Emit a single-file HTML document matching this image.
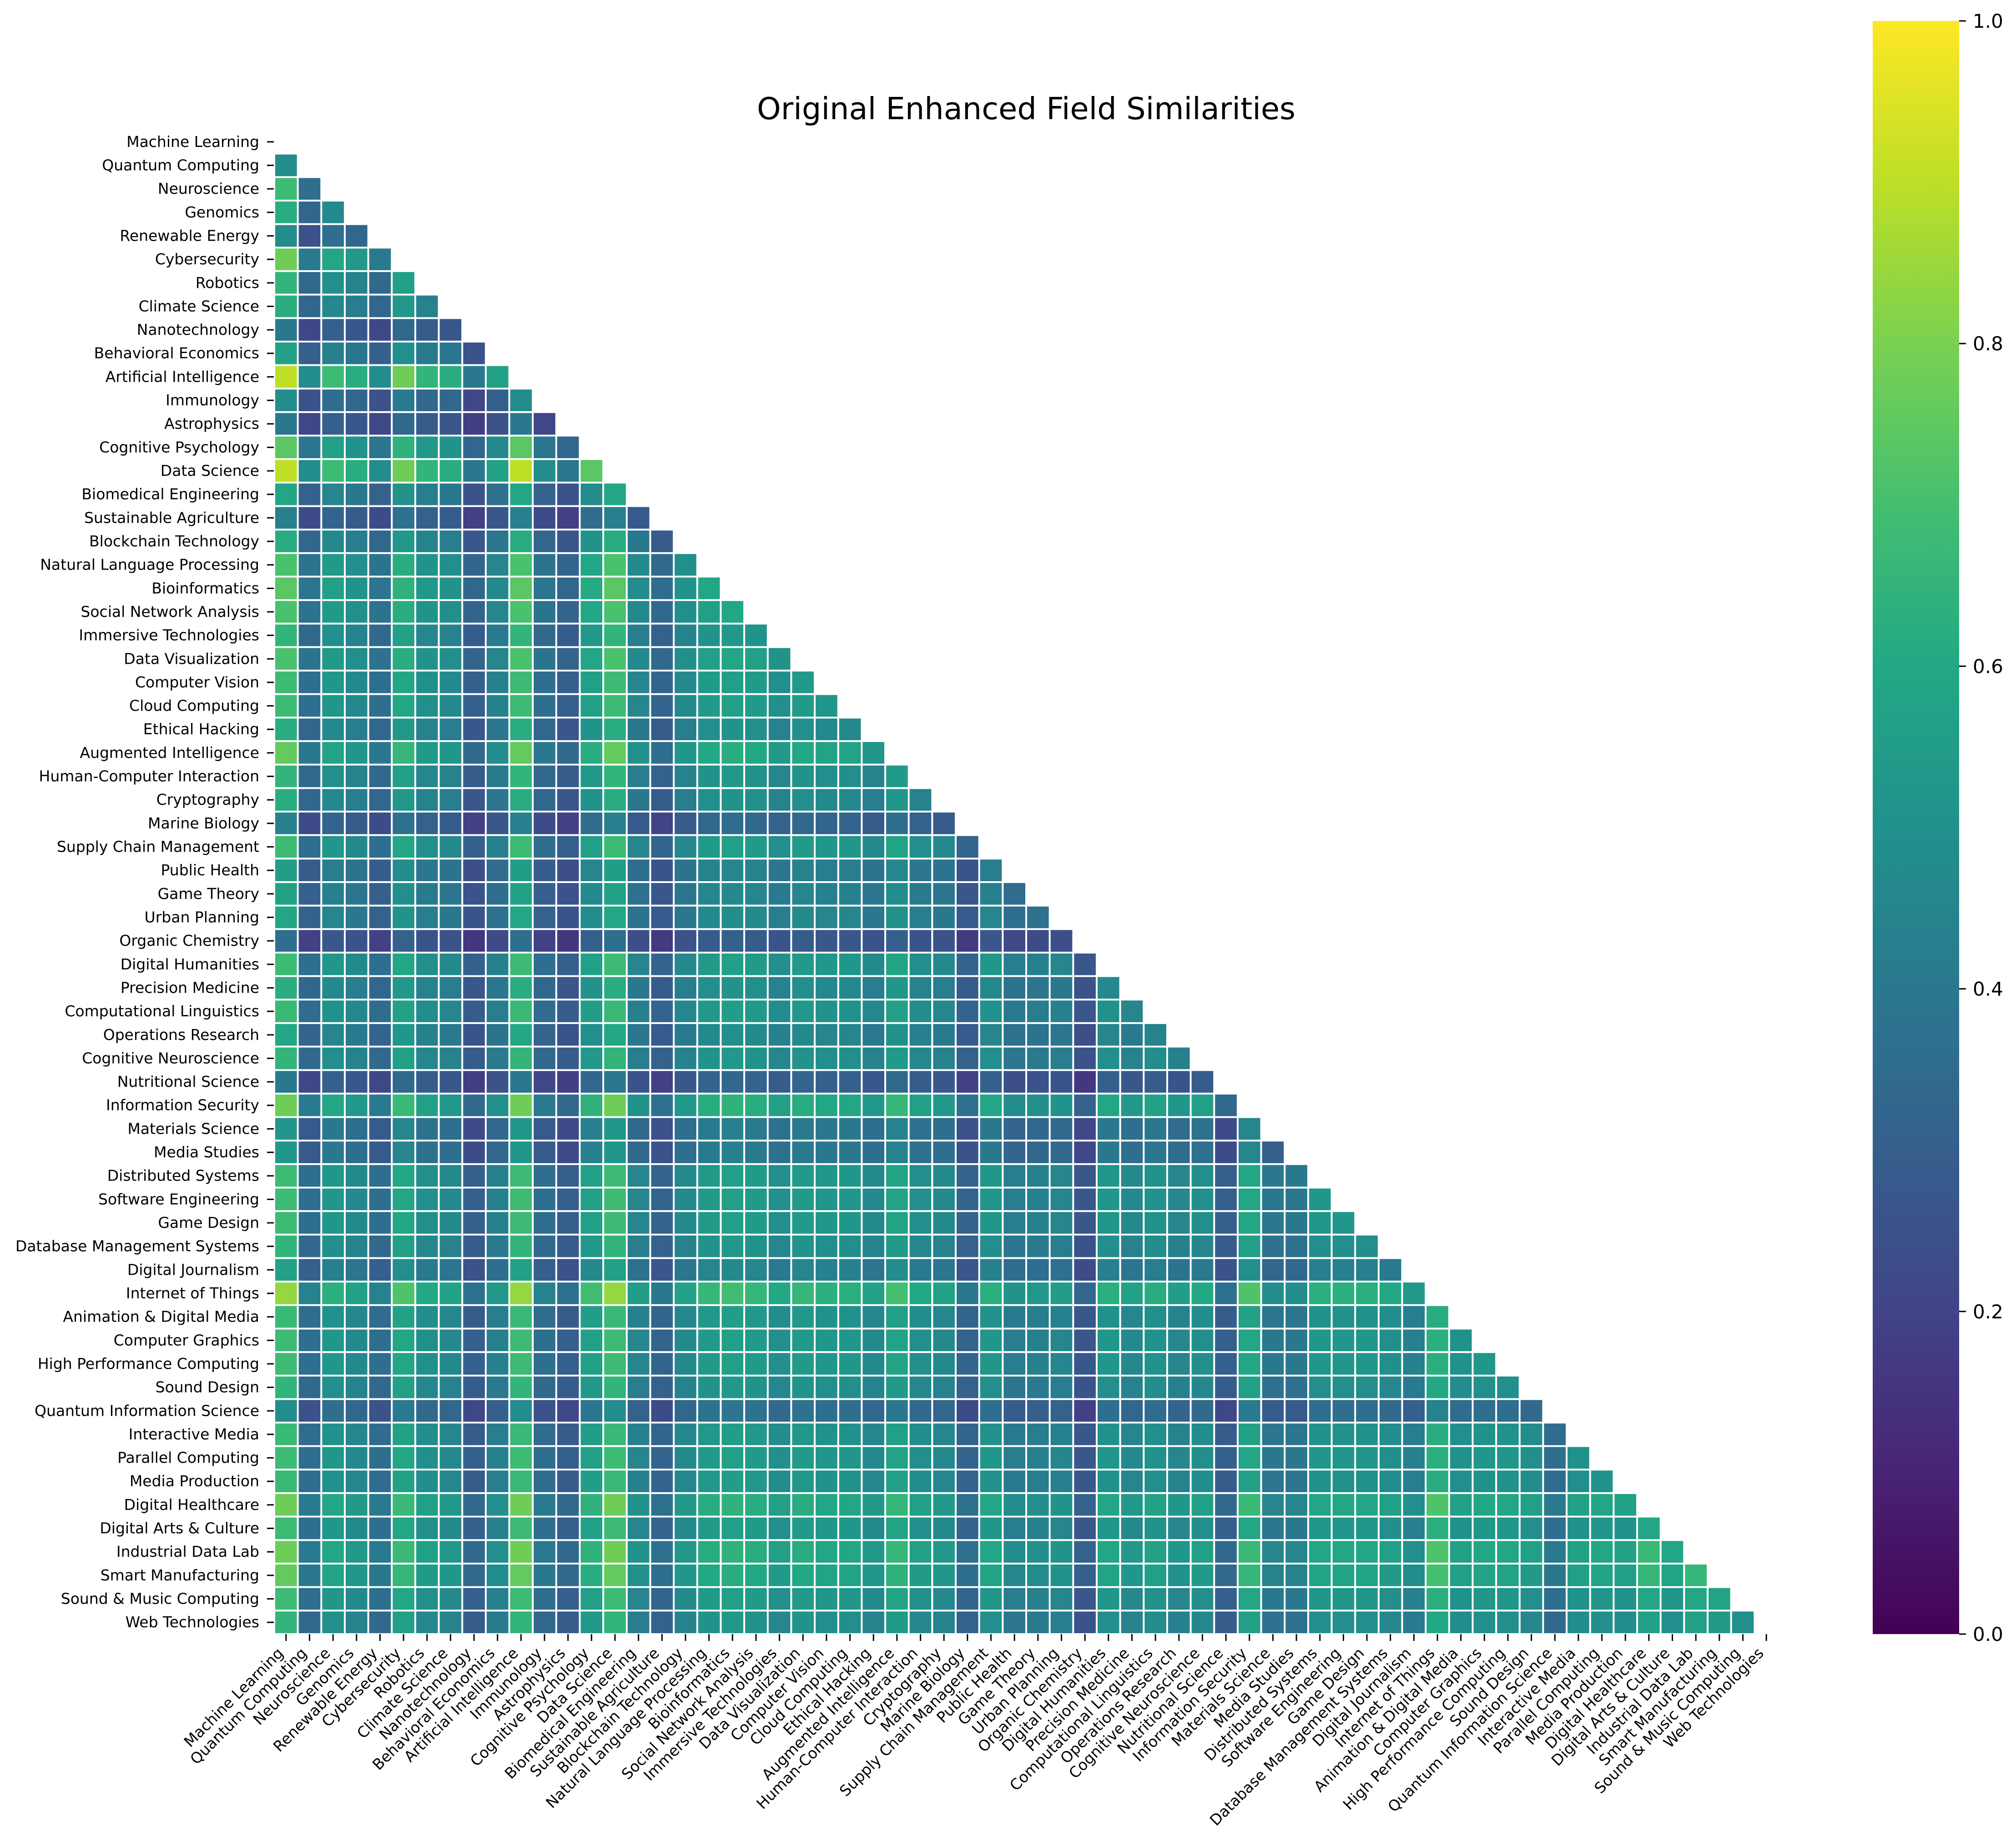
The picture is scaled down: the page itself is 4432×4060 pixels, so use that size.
<!DOCTYPE html>
<html><head><meta charset="utf-8"><title>Original Enhanced Field Similarities</title>
<style>
html,body{margin:0;padding:0;background:#fff;}
svg{display:block;font-family:"DejaVu Sans","Liberation Sans",sans-serif;}
</style></head>
<body>
<svg id="chart" width="4432" height="4060" viewBox="0 0 4432 4060" xmlns="http://www.w3.org/2000/svg">
<defs>
<linearGradient id="viridisGrad" x1="0" y1="1" x2="0" y2="0">
<stop offset="0" stop-color="#440154"/><stop offset="0.1" stop-color="#482475"/><stop offset="0.2" stop-color="#414487"/><stop offset="0.3" stop-color="#355f8d"/><stop offset="0.4" stop-color="#2a788e"/><stop offset="0.5" stop-color="#21918c"/><stop offset="0.6" stop-color="#22a884"/><stop offset="0.7" stop-color="#44bf70"/><stop offset="0.8" stop-color="#7ad151"/><stop offset="0.9" stop-color="#bddf26"/><stop offset="1" stop-color="#fde725"/>
</linearGradient>
</defs>
<text x="2256" y="262" font-size="67" text-anchor="middle" fill="#000">Original Enhanced Field Similarities</text>
<g id="cells"></g>
<g id="yaxis"></g>
<g id="xaxis"></g>
<g id="cbar">
<rect x="4117" y="46" width="190" height="3546" fill="url(#viridisGrad)"/>
</g>
</svg>
<script>
const labels = ["Machine Learning","Quantum Computing","Neuroscience","Genomics","Renewable Energy","Cybersecurity","Robotics","Climate Science","Nanotechnology","Behavioral Economics","Artificial Intelligence","Immunology","Astrophysics","Cognitive Psychology","Data Science","Biomedical Engineering","Sustainable Agriculture","Blockchain Technology","Natural Language Processing","Bioinformatics","Social Network Analysis","Immersive Technologies","Data Visualization","Computer Vision","Cloud Computing","Ethical Hacking","Augmented Intelligence","Human-Computer Interaction","Cryptography","Marine Biology","Supply Chain Management","Public Health","Game Theory","Urban Planning","Organic Chemistry","Digital Humanities","Precision Medicine","Computational Linguistics","Operations Research","Cognitive Neuroscience","Nutritional Science","Information Security","Materials Science","Media Studies","Distributed Systems","Software Engineering","Game Design","Database Management Systems","Digital Journalism","Internet of Things","Animation & Digital Media","Computer Graphics","High Performance Computing","Sound Design","Quantum Information Science","Interactive Media","Parallel Computing","Media Production","Digital Healthcare","Digital Arts & Culture","Industrial Data Lab","Smart Manufacturing","Sound & Music Computing","Web Technologies"];
const values = [
[],
[48],
[68,36],
[62,33,47],
[48,25,36,33],
[78,41,59,53,41],
[65,34,49,44,34,56],
[62,33,47,42,33,53,44],
[40,21,30,27,21,34,29,27],
[57,30,43,39,30,49,41,39,25],
[90,48,68,62,48,78,65,62,40,57],
[48,25,36,33,25,41,34,33,21,30,48],
[40,21,30,27,21,34,29,27,18,25,40,21],
[74,39,56,51,39,64,53,51,33,47,74,39,33],
[90,48,68,62,48,78,65,62,40,57,90,48,40,74],
[59,31,45,40,31,51,42,40,26,37,59,31,26,48,59],
[43,23,32,29,23,37,31,29,19,27,43,23,19,35,43,28],
[62,33,47,42,33,53,44,42,27,39,62,33,27,51,62,40,29],
[71,38,54,49,38,62,51,49,32,45,71,38,32,59,71,47,34,49],
[74,39,56,51,39,64,53,51,33,47,74,39,33,61,74,48,35,51,59],
[71,38,54,49,38,62,51,49,32,45,71,38,32,59,71,47,34,49,56,59],
[65,34,49,44,34,56,46,44,29,41,65,34,29,53,65,42,31,44,51,53,51],
[71,38,54,49,38,62,51,49,32,45,71,38,32,59,71,47,34,49,56,59,56,51],
[68,36,52,47,36,59,49,47,30,43,68,36,30,56,68,45,32,47,54,56,54,49,54],
[68,36,52,47,36,59,49,47,30,43,68,36,30,56,68,45,32,47,54,56,54,49,54,52],
[62,33,47,42,33,53,44,42,27,39,62,33,27,51,62,40,29,42,49,51,49,44,49,47,47],
[76,40,58,52,40,66,54,52,34,48,76,40,34,62,76,50,36,52,60,62,60,54,60,58,58,52],
[65,34,49,44,34,56,46,44,29,41,65,34,29,53,65,42,31,44,51,53,51,46,51,49,49,44,54],
[62,33,47,42,33,53,44,42,27,39,62,33,27,51,62,40,29,42,49,51,49,44,49,47,47,42,52,44],
[43,23,32,29,23,37,31,29,19,27,43,23,19,35,43,28,20,29,34,35,34,31,34,32,32,29,36,31,29],
[68,36,52,47,36,59,49,47,30,43,68,36,30,56,68,45,32,47,54,56,54,49,54,52,52,47,58,49,47,32],
[55,29,42,38,29,48,39,38,24,35,55,29,24,45,55,36,26,38,44,45,44,39,44,42,42,38,46,39,38,26,42],
[57,30,43,39,30,49,41,39,25,36,57,30,25,47,57,37,27,39,45,47,45,41,45,43,43,39,48,41,39,27,43,35],
[59,31,45,40,31,51,42,40,26,37,59,31,26,48,59,38,28,40,47,48,47,42,47,45,45,40,50,42,40,28,45,36,37],
[36,19,27,25,19,31,26,25,16,23,36,19,16,30,36,24,17,25,29,30,29,26,29,27,27,25,30,26,25,17,27,22,23,24],
[68,36,52,47,36,59,49,47,30,43,68,36,30,56,68,45,32,47,54,56,54,49,54,52,52,47,58,49,47,32,52,42,43,45,27],
[62,33,47,42,33,53,44,42,27,39,62,33,27,51,62,40,29,42,49,51,49,44,49,47,47,42,52,44,42,29,47,38,39,40,25,47],
[67,35,50,46,35,57,48,46,29,42,67,35,29,55,67,43,32,46,53,55,53,48,53,50,50,46,56,48,46,32,50,41,42,43,27,50,46],
[60,32,45,41,32,52,43,41,26,38,60,32,26,49,60,39,28,41,47,49,47,43,47,45,45,41,50,43,41,28,45,37,38,39,24,45,41,44],
[65,34,49,44,34,56,46,44,29,41,65,34,29,53,65,42,31,44,51,53,51,46,51,49,49,44,54,46,44,31,49,39,41,42,26,49,44,48,43],
[40,21,30,27,21,34,29,27,18,25,40,21,18,33,40,26,19,27,32,33,32,29,32,30,30,27,34,29,27,19,30,24,25,26,16,30,27,29,26,29],
[78,41,59,53,41,67,56,53,34,49,78,41,34,64,78,51,37,53,62,64,62,56,62,59,59,53,66,56,53,37,59,48,49,51,31,59,53,57,52,56,34],
[52,28,40,36,28,45,37,36,23,33,52,28,23,43,52,34,25,36,41,43,41,37,41,40,40,36,44,37,36,25,40,32,33,34,21,40,36,39,35,37,23,45],
[52,28,40,36,28,45,37,36,23,33,52,28,23,43,52,34,25,36,41,43,41,37,41,40,40,36,44,37,36,25,40,32,33,34,21,40,36,39,35,37,23,45,30],
[68,36,52,47,36,59,49,47,30,43,68,36,30,56,68,45,32,47,54,56,54,49,54,52,52,47,58,49,47,32,52,42,43,45,27,52,47,50,45,49,30,59,40,40],
[68,36,52,47,36,59,49,47,30,43,68,36,30,56,68,45,32,47,54,56,54,49,54,52,52,47,58,49,47,32,52,42,43,45,27,52,47,50,45,49,30,59,40,40,52],
[68,36,52,47,36,59,49,47,30,43,68,36,30,56,68,45,32,47,54,56,54,49,54,52,52,47,58,49,47,32,52,42,43,45,27,52,47,50,45,49,30,59,40,40,52,52],
[65,34,49,44,34,56,46,44,29,41,65,34,29,53,65,42,31,44,51,53,51,46,51,49,49,44,54,46,44,31,49,39,41,42,26,49,44,48,43,46,29,56,37,37,49,49,49],
[57,30,43,39,30,49,41,39,25,36,57,30,25,47,57,37,27,39,45,47,45,41,45,43,43,39,48,41,39,27,43,35,36,37,23,43,39,42,38,41,25,49,33,33,43,43,43,41],
[84,44,63,57,44,72,60,57,37,53,84,44,37,69,84,55,40,57,66,69,66,60,66,63,63,57,70,60,57,40,63,51,53,55,33,63,57,62,55,60,37,72,48,48,63,63,63,60,53],
[67,35,50,46,35,57,48,46,29,42,67,35,29,55,67,43,32,46,53,55,53,48,53,50,50,46,56,48,46,32,50,41,42,43,27,50,46,49,44,48,29,57,39,39,50,50,50,48,42,62],
[68,36,52,47,36,59,49,47,30,43,68,36,30,56,68,45,32,47,54,56,54,49,54,52,52,47,58,49,47,32,52,42,43,45,27,52,47,50,45,49,30,59,40,40,52,52,52,49,43,63,50],
[68,36,52,47,36,59,49,47,30,43,68,36,30,56,68,45,32,47,54,56,54,49,54,52,52,47,58,49,47,32,52,42,43,45,27,52,47,50,45,49,30,59,40,40,52,52,52,49,43,63,50,52],
[65,34,49,44,34,56,46,44,29,41,65,34,29,53,65,42,31,44,51,53,51,46,51,49,49,44,54,46,44,31,49,39,41,42,26,49,44,48,43,46,29,56,37,37,49,49,49,46,41,60,48,49,49],
[48,25,36,33,25,41,34,33,21,30,48,25,21,39,48,31,23,33,38,39,38,34,38,36,36,33,40,34,33,23,36,29,30,31,19,36,33,35,32,34,21,41,28,28,36,36,36,34,30,44,35,36,36,34],
[67,35,50,46,35,57,48,46,29,42,67,35,29,55,67,43,32,46,53,55,53,48,53,50,50,46,56,48,46,32,50,41,42,43,27,50,46,49,44,48,29,57,39,39,50,50,50,48,42,62,49,50,50,48,35],
[68,36,52,47,36,59,49,47,30,43,68,36,30,56,68,45,32,47,54,56,54,49,54,52,52,47,58,49,47,32,52,42,43,45,27,52,47,50,45,49,30,59,40,40,52,52,52,49,43,63,50,52,52,49,36,50],
[67,35,50,46,35,57,48,46,29,42,67,35,29,55,67,43,32,46,53,55,53,48,53,50,50,46,56,48,46,32,50,41,42,43,27,50,46,49,44,48,29,57,39,39,50,50,50,48,42,62,49,50,50,48,35,49,50],
[78,41,59,53,41,67,56,53,34,49,78,41,34,64,78,51,37,53,62,64,62,56,62,59,59,53,66,56,53,37,59,48,49,51,31,59,53,57,52,56,34,67,45,45,59,59,59,56,49,72,57,59,59,56,41,57,59,57],
[68,36,52,47,36,59,49,47,30,43,68,36,30,56,68,45,32,47,54,56,54,49,54,52,52,47,58,49,47,32,52,42,43,45,27,52,47,50,45,49,30,59,40,40,52,52,52,49,43,63,50,52,52,49,36,50,52,50,59],
[78,41,59,53,41,67,56,53,34,49,78,41,34,64,78,51,37,53,62,64,62,56,62,59,59,53,66,56,53,37,59,48,49,51,31,59,53,57,52,56,34,67,45,45,59,59,59,56,49,72,57,59,59,56,41,57,59,57,67,59],
[76,40,58,52,40,66,54,52,34,48,76,40,34,62,76,50,36,52,60,62,60,54,60,58,58,52,64,54,52,36,58,46,48,50,30,58,52,56,50,54,34,66,44,44,58,58,58,54,48,70,56,58,58,54,40,56,58,56,66,58,66],
[68,36,52,47,36,59,49,47,30,43,68,36,30,56,68,45,32,47,54,56,54,49,54,52,52,47,58,49,47,32,52,42,43,45,27,52,47,50,45,49,30,59,40,40,52,52,52,49,43,63,50,52,52,49,36,50,52,50,59,52,59,58],
[65,34,49,44,34,56,46,44,29,41,65,34,29,53,65,42,31,44,51,53,51,46,51,49,49,44,54,46,44,31,49,39,41,42,26,49,44,48,43,46,29,56,37,37,49,49,49,46,41,60,48,49,49,46,34,48,49,48,56,49,56,54,49]
];
const cbarTicks = [0, 0.2, 0.4, 0.6, 0.8, 1.0];
const cbarTickLabels = ["0.0","0.2","0.4","0.6","0.8","1.0"];

const NS = "http://www.w3.org/2000/svg";
const gridLeft = 603, gridTop = 286, cell = 3306 / labels.length, gap = 2;
const cbTop = 46, cbBottom = 3592, cbRight = 4307;
const stops = ["#440154","#482475","#414487","#355f8d","#2a788e","#21918c","#22a884","#44bf70","#7ad151","#bddf26","#fde725"];
function hex(c){return [parseInt(c.substr(1,2),16),parseInt(c.substr(3,2),16),parseInt(c.substr(5,2),16)];}
function viridis(v){
  v = Math.max(0, Math.min(1, v));
  const p = v * 10, i = Math.min(9, Math.floor(p)), f = p - i;
  const a = hex(stops[i]), b = hex(stops[i+1]);
  return "rgb(" + a.map((x,k)=>Math.round(x + (b[k]-x)*f)).join(",") + ")";
}
function xPos(j){return gridLeft + j * cell;}
function yPos(i){return gridTop + i * cell;}
function cbY(v){return cbBottom - v * (cbBottom - cbTop);}
function mk(tag, attrs, parent){
  const e = document.createElementNS(NS, tag);
  for (const k in attrs) e.setAttribute(k, attrs[k]);
  parent.appendChild(e);
  return e;
}
const cells = document.getElementById("cells");
values.forEach((row, i) => {
  row.forEach((v, j) => {
    const r = mk("rect", {x: xPos(j) + gap, y: yPos(i) + gap, width: cell - 2*gap, height: cell - 2*gap, fill: viridis(v / 100)}, cells);
    
    
  });
});
const yaxis = document.getElementById("yaxis");
const xaxis = document.getElementById("xaxis");
labels.forEach((lab, i) => {
  const cy = yPos(i) + cell / 2;
  const t = mk("line", {x1: 587, y1: cy, x2: 602, y2: cy, stroke: "#000", "stroke-width": 3}, yaxis);
  
  
  const tx = mk("text", {x: 570, y: cy + 11, "font-size": 33, "text-anchor": "end", fill: "#000"}, yaxis);
  tx.textContent = lab;
  
  
  const cx = xPos(i) + cell / 2;
  const xt = mk("line", {x1: cx, y1: 3592, x2: cx, y2: 3607, stroke: "#000", "stroke-width": 3}, xaxis);
  
  
  const ax = cx - 4, ay = 3636;
  const xl = mk("text", {x: ax, y: ay, "font-size": 33, "text-anchor": "end", fill: "#000", transform: "rotate(-45 " + ax + " " + ay + ")"}, xaxis);
  xl.textContent = lab;
  
  
});
const cbar = document.getElementById("cbar");
cbarTicks.forEach((v, k) => {
  const y = cbY(v);
  const tl = mk("line", {x1: cbRight, y1: y, x2: cbRight + 15, y2: y, stroke: "#000", "stroke-width": 3}, cbar);
  
  
  const tt = mk("text", {x: 4337, y: y + 15, "font-size": 42, fill: "#000"}, cbar);
  tt.textContent = cbarTickLabels[k];
  
  
});
</script>
</body></html>
